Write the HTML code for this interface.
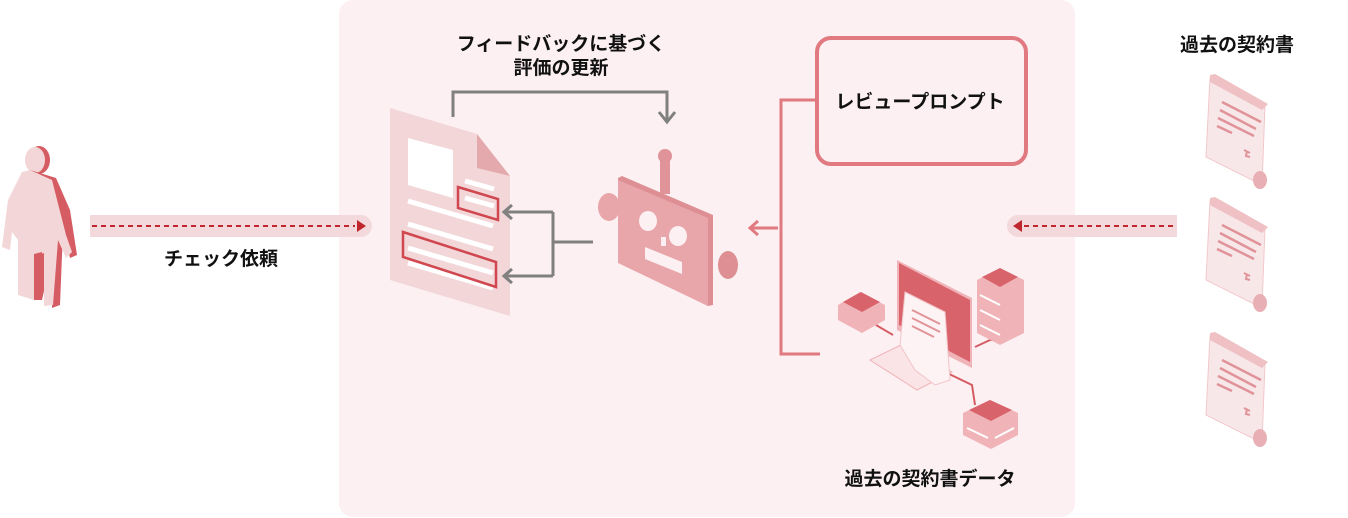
<!DOCTYPE html>
<html><head><meta charset="utf-8"><style>
html,body{margin:0;padding:0;background:#fff;}
svg{display:block;}
text{font-family:"Liberation Sans","Noto Sans CJK JP",sans-serif;font-weight:bold;fill:#111;}
</style></head><body>
<svg width="1348" height="518" viewBox="0 0 1348 518" xmlns="http://www.w3.org/2000/svg">
<rect x="339" y="0" width="736" height="517" rx="14" fill="#fcf0f2"/>

<!-- person -->
<g>
<ellipse cx="39" cy="160" rx="11" ry="14" fill="#d65c63"/>
<ellipse cx="35" cy="160" rx="10" ry="13" fill="#f3d6d8"/>
<path d="M30 170 L56 178 L70 210 L77 255 L70 258 L63 230 L60 305 L52 308 L52 255 L42 300 L36 300 L40 245 L28 182 Z" fill="#d65c63"/>
<path d="M22 172 L30 170 L52 180 L66 235 L72 252 L66 258 L58 240 L53 305 L44 306 L44 253 L38 255 L34 300 L18 295 L18 240 L12 232 L10 250 L2 247 L8 200 Z" fill="#f3d6d8"/>
<path d="M34 254 L42 252 L40 300 L34 300 Z" fill="#d65c63"/>
</g>

<path d="M90 215 H361 A11 11 0 0 1 361 237 H90 Z" fill="#f3d9db"/>
<line x1="92" y1="226" x2="355" y2="226" stroke="#c0262d" stroke-width="2" stroke-dasharray="5,4"/>
<path d="M357 220 L366 226 L357 232 Z" fill="#c0262d"/>
<text x="221" y="265" font-size="19" text-anchor="middle">チェック依頼</text>

<path d="M1177 215 H1018 A11 11 0 0 0 1018 237 H1177 Z" fill="#f3d9db"/>
<line x1="1024" y1="226" x2="1177" y2="226" stroke="#c0262d" stroke-width="2" stroke-dasharray="5,4"/>
<path d="M1022 220 L1013 226 L1022 232 Z" fill="#c0262d"/>

<text x="561" y="50" font-size="19" text-anchor="middle">フィードバックに基づく</text>
<text x="561" y="74" font-size="19" text-anchor="middle">評価の更新</text>

<!-- document -->
<path d="M390 108 L477 134 L510 176 L510 316 L390 280 Z" fill="#f2d6d8"/>
<path d="M477 134 L477 168 L510 176 Z" fill="#e4a9ad"/>
<path d="M408 138 L453 150 L453 198 L408 185 Z" fill="#fff"/>
<g stroke="#fff" stroke-width="5">
<line x1="465" y1="181" x2="494" y2="189"/>
<line x1="465" y1="198" x2="494" y2="206"/>
<line x1="408" y1="201" x2="493" y2="226"/>
<line x1="408" y1="224" x2="493" y2="249"/>
<line x1="408" y1="248" x2="493" y2="273"/>
<line x1="408" y1="263" x2="493" y2="288"/>
</g>
<path d="M458 187 L498 199 L498 220 L458 208 Z" fill="none" stroke="#d0474f" stroke-width="2.5"/>
<path d="M403 232 L496 262 L496 287 L403 257 Z" fill="none" stroke="#d0474f" stroke-width="2.5"/>

<g fill="none" stroke="#808080" stroke-width="3">
<polyline points="453,117 453,92 667,92 667,122"/>
<polyline points="659,112 667,122 675,112"/>
<polyline points="593,242 553,242"/>
<polyline points="553,212 553,276"/>
<polyline points="553,212 504,212"/>
<polyline points="553,276 504,276"/>
<polyline points="512,205 504,212 512,219"/>
<polyline points="512,269 504,276 512,283"/>
</g>

<!-- robot -->
<ellipse cx="609" cy="207" rx="11" ry="14" fill="#e8a6aa"/>
<ellipse cx="728" cy="265" rx="10" ry="14" fill="#dd8f94"/>
<rect x="660" y="160" width="10" height="34" fill="#e09398"/>
<circle cx="665" cy="156" r="7" fill="#e09398"/>
<path d="M618 178 L622 176 L713 215 L713 305 L708 306 L618 262 Z" fill="#dd8f94"/>
<path d="M618 180 L708 218 L708 306 L618 263 Z" fill="#e8a6aa"/>
<ellipse cx="648" cy="221" rx="9" ry="10" fill="#fcf0f2"/>
<ellipse cx="678" cy="236" rx="9" ry="10" fill="#fcf0f2"/>
<rect x="661" y="237" width="5" height="9" fill="#fcf0f2"/>
<path d="M645 247 L682 262 L682 274 L645 259 Z" fill="#fcf0f2"/>

<g fill="none" stroke="#e07a80" stroke-width="3">
<polyline points="778,228 750,228"/>
<polyline points="758,221 750,228 758,235"/>
<polyline points="815,100 781,100 781,354 820,354"/>
</g>

<rect x="817" y="38" width="209" height="126" rx="14" fill="#fcf0f2" stroke="#e07a80" stroke-width="4"/>
<text x="920" y="108" font-size="19" text-anchor="middle">レビュープロンプト</text>

<g>
<line x1="876" y1="325" x2="893" y2="335" stroke="#d65c63" stroke-width="2"/>
<polyline points="975,347 990,340 995,340" fill="none" stroke="#d65c63" stroke-width="2"/>
<polyline points="945,372 972,385 975,405" fill="none" stroke="#d65c63" stroke-width="2"/>
<path d="M897 260 L972 298 L972 368 L897 330 Z" fill="#f0b4b8"/>
<path d="M899 263 L970 300 L970 362 L899 325 Z" fill="#d9636b"/>
<path d="M870 360 L905 343 L952 372 L917 390 Z" fill="#fbe4e6" stroke="#f0b4b8"/>
<path d="M905 292 L945 312 L950 380 L935 385 L915 370 L900 345 Z" fill="#fdf3f4" stroke="#f2c4c7"/>
<g stroke="#e09398" stroke-width="2"><line x1="912" y1="310" x2="940" y2="324"/><line x1="912" y1="318" x2="940" y2="332"/><line x1="912" y1="326" x2="934" y2="337"/></g>
<path d="M838 305 L860 292 L885 305 L885 320 L862 333 L838 320 Z" fill="#f0b4b8"/>
<path d="M843 302 L861 292 L880 302 L862 312 Z" fill="#d9636b"/>
<path d="M977 280 L1000 268 L1024 280 L1024 333 L1000 345 L977 333 Z" fill="#f0b4b8"/>
<path d="M982 277 L1000 268 L1018 277 L1000 287 Z" fill="#d9636b"/>
<g stroke="#fff" stroke-width="2"><line x1="980" y1="295" x2="1000" y2="305"/><line x1="980" y1="310" x2="1000" y2="320"/><line x1="980" y1="325" x2="1000" y2="335"/></g>
<path d="M963 413 L990 400 L1018 413 L1018 435 L991 449 L963 435 Z" fill="#f0b4b8"/>
<path d="M969 410 L990 400 L1012 410 L991 421 Z" fill="#d9636b"/>
<g stroke="#fff" stroke-width="2"><line x1="967" y1="428" x2="988" y2="438"/><line x1="995" y1="438" x2="1014" y2="428"/></g>
</g>
<text x="930" y="485" font-size="19" text-anchor="middle">過去の契約書データ</text>

<text x="1237" y="51" font-size="19" text-anchor="middle">過去の契約書</text>
<g id="s">
<path d="M1210 78 L1265 105 L1262 185 L1206 157 Z" fill="#f8e7e9" stroke="#f2c8cb"/>
<path d="M1210 75 L1215 74 L1268 104 L1262 110 L1210 82 Z" fill="#efc0c4"/>
<ellipse cx="1260" cy="180" rx="7" ry="9" fill="#e8b0b5"/>
<g stroke="#e09398" stroke-width="2.5"><line x1="1222" y1="102" x2="1261" y2="122"/><line x1="1220" y1="110" x2="1256" y2="129"/><line x1="1218" y1="118" x2="1254" y2="136"/><line x1="1217" y1="126" x2="1232" y2="133"/></g>
<path d="M1244 150 l6 3 m-3 -2 l-1 5 l4 1" stroke="#e09398" stroke-width="2" fill="none"/>
</g>
<use href="#s" y="123"/>
<use href="#s" y="258"/>
</svg>
</body></html>
